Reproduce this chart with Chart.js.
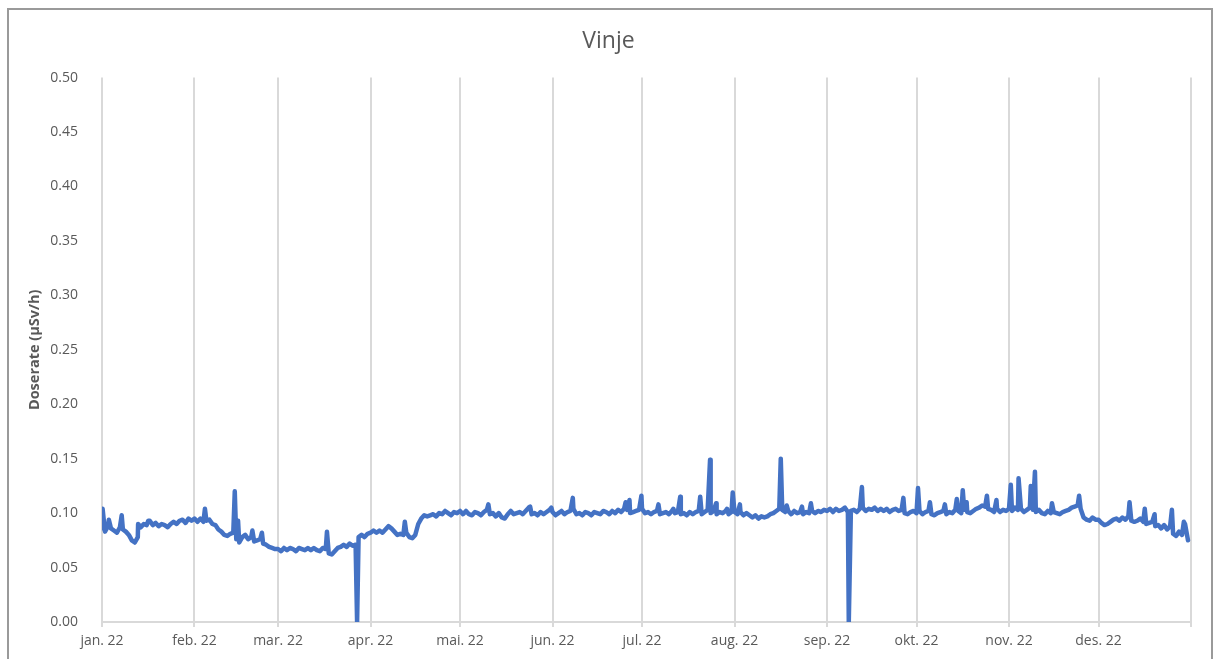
<!DOCTYPE html>
<html>
<head>
<meta charset="utf-8">
<script src="https://cdn.jsdelivr.net/npm/chart.js@4.4.1/dist/chart.umd.min.js"></script>
<style>
  html, body { margin: 0; padding: 0; background: #fff; overflow: hidden; }
  #wrap { position: relative; width: 1219px; height: 659px; }
  #frame { position: absolute; left: 7px; top: 8px; width: 1206px; height: 700px; border: 2px solid #9a9a9a; box-sizing: border-box; }
  #chartCanvas { position: absolute; left: 0; top: 0; }
</style>
</head>
<body>
<div id="wrap">
  <div id="frame"></div>
  <canvas id="chartCanvas" width="1219" height="659"></canvas>
</div>
<script>
// month ticks (day of year 2022)
const monthStarts = [0, 31, 59, 90, 120, 151, 181, 212, 243, 273, 304, 334, 365];
const monthLabels = ["jan. 22", "feb. 22", "mar. 22", "apr. 22", "mai. 22", "jun. 22",
  "jul. 22", "aug. 22", "sep. 22", "okt. 22", "nov. 22", "des. 22", ""];

const yTicks = [0, 0.05, 0.10, 0.15, 0.20, 0.25, 0.30, 0.35, 0.40, 0.45, 0.50];

// daily level, µSv/h (day 0 = 1 Jan)
const dailyDose = [
  // jan
  .086, .083, .088, .086, .084, .082, .087, .085, .083, .080, .075, .073, .078, .087, .090, .089,
  .093, .089, .091, .088, .090, .089, .087, .090, .092, .090, .093, .094, .091, .095, .093,
  // feb
  .095, .092, .095, .092, .093, .094, .090, .089, .085, .083, .080, .079, .081, .082, .076, .073,
  .078, .080, .076, .078, .074, .075, .076, .072, .071, .069, .068, .067,
  // mar
  .067, .065, .068, .066, .068, .067, .065, .068, .067, .066, .068, .066, .068, .066, .065, .068,
  .067, .063, .062, .065, .068, .069, .071, .069, .072, .070, .071, .078, .080, .078, .081,
  // apr
  .082, .084, .082, .084, .082, .085, .088, .086, .083, .080, .081, .080, .082, .078, .077, .080,
  .090, .095, .098, .097, .098, .099, .097, .100, .099, .102, .100, .098, .101, .100,
  // mai
  .102, .099, .102, .099, .098, .101, .100, .098, .101, .103, .099, .100, .097, .100, .096, .095,
  .099, .102, .099, .100, .101, .099, .102, .105, .099, .100, .098, .101, .099, .101, .103,
  // jun
  .101, .098, .100, .102, .099, .101, .102, .104, .099, .100, .098, .101, .100, .098, .101, .100,
  .099, .102, .101, .099, .102, .100, .103, .101, .104, .103, .100, .101, .102, .103,
  // jul
  .104, .100, .101, .099, .101, .102, .099, .100, .101, .099, .102, .100, .101, .099, .100, .098,
  .101, .099, .101, .102, .099, .101, .103, .100, .102, .099, .101, .100, .102, .099, .101,
  // aug
  .101, .099, .101, .098, .100, .098, .096, .098, .095, .097, .096, .097, .099, .100, .102, .104,
  .103, .101, .102, .099, .102, .100, .101, .099, .101, .100, .102, .100, .102, .101, .103,
  // sep
  .102, .104, .101, .104, .102, .103, .105, .101, .102, .103, .101, .104, .105, .102, .104, .103,
  .105, .102, .104, .102, .104, .101, .103, .104, .102, .103, .100, .099, .101, .102,
  // okt
  .100, .102, .099, .101, .102, .099, .098, .100, .101, .102, .099, .101, .100, .103, .102, .100,
  .103, .101, .100, .102, .104, .105, .107, .106, .104, .103, .101, .104, .101, .103, .102,
  // nov
  .104, .102, .105, .103, .104, .101, .103, .105, .103, .101, .103, .100, .099, .102, .100, .101,
  .100, .099, .101, .102, .103, .105, .106, .107, .104, .096, .094, .093, .096, .094,
  // des
  .094, .091, .089, .090, .092, .094, .095, .093, .096, .094, .097, .093, .092, .093, .095, .092,
  .090, .091, .092, .088, .089, .086, .089, .085, .088, .081, .079, .083, .080, .090, .075
];

// short peaks and dropouts between the daily readings
const spikeDays = [0.2, 2.3, 6.6, 12.1, 15.5, 34.5, 44.5, 45.6, 50.4, 53.6, 75.4, 85.5,
  101.5, 129.5, 143.5, 150.6, 157.8, 175.5, 176.8, 180.8, 186.5, 191.5, 193.8, 200.5, 203.8,
  205.8, 209.5, 211.4, 213.8, 227.5, 229.5, 234.6, 237.6, 250.3, 254.7, 268.6, 273.5, 277.5,
  282.5, 286.5, 288.5, 289.8, 296.6, 299.8, 304.6, 307.2, 311.3, 312.7, 318.4, 327.5, 344.4,
  349.5, 352.8, 358.6, 362.6];
const spikeDose = [0.104, 0.094, 0.098, 0.090, 0.093, 0.104, 0.120, 0.093, 0.084, 0.082, 0.083, 0,
  0.092, 0.108, 0.106, 0.105, 0.114, 0.110, 0.112, 0.116, 0.108, 0.104, 0.115, 0.115, 0.149,
  0.109, 0.104, 0.119, 0.108, 0.150, 0.107, 0.106, 0.109, 0, 0.124, 0.114, 0.123, 0.110,
  0.108, 0.113, 0.121, 0.110, 0.116, 0.112, 0.126, 0.132, 0.125, 0.138, 0.109, 0.116, 0.110,
  0.104, 0.099, 0.103, 0.092];

function buildPoints() {
  const pts = dailyDose.map((v, i) => ({ x: i, y: v }));
  spikeDays.forEach((d, i) => pts.push({ x: d, y: spikeDose[i] }));
  return pts.sort((a, b) => a.x - b.x);
}

Chart.defaults.font.family = "'Open Sans', 'Liberation Sans', sans-serif";
Chart.defaults.color = "#595959";

const ctx = document.getElementById("chartCanvas").getContext("2d");
new Chart(ctx, {
  type: "line",
  data: {
    datasets: [{
      label: "Vinje",
      data: buildPoints(),
      borderColor: "#4472C4",
      backgroundColor: "#4472C4",
      borderWidth: 4.5,
      borderJoinStyle: "round",
      borderCapStyle: "round",
      pointRadius: 0,
      tension: 0,
      fill: false
    }]
  },
  options: {
    responsive: false,
    animation: false,
    layout: { padding: { left: 26, right: 28, top: 0, bottom: 0 } },
    plugins: {
      legend: { display: false },
      tooltip: { enabled: false },
      title: {
        display: true,
        text: "Vinje",
        color: "#595959",
        font: { size: 23, weight: "normal" },
        padding: { top: 28, bottom: 22 }
      }
    },
    scales: {
      x: {
        type: "linear",
        min: 0,
        max: 365,
        afterBuildTicks: scale => {
          scale.ticks = monthStarts.map(v => ({ value: v }));
        },
        afterFit: scale => { scale.height = 37; },
        ticks: {
          autoSkip: false,
          maxRotation: 0,
          padding: 6,
          font: { size: 14 },
          callback: (v, i) => monthLabels[i]
        },
        grid: { color: "#d9d9d9", lineWidth: 2, tickLength: 5 },
        border: { color: "#d9d9d9", width: 2 }
      },
      y: {
        min: 0,
        max: 0.5,
        afterBuildTicks: scale => {
          scale.ticks = yTicks.map(v => ({ value: v }));
        },
        afterFit: scale => { scale.width = 76; },
        ticks: {
          padding: 16,
          font: { size: 14 },
          callback: v => v.toFixed(2)
        },
        grid: { display: false },
        border: { display: false },
        title: {
          display: true,
          text: "Doserate (µSv/h)",
          color: "#595959",
          font: { size: 14.5, weight: "bold" },
          padding: { top: 0, bottom: 0 }
        }
      }
    }
  }
});
</script>
</body>
</html>
